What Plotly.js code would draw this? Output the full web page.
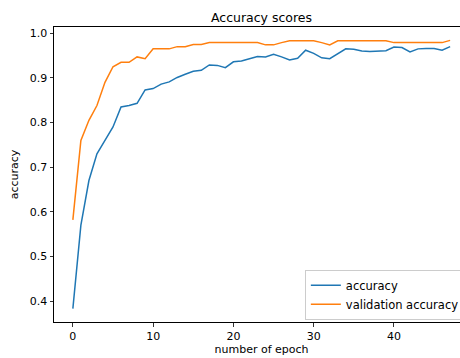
<!DOCTYPE html>
<html>
<head>
<meta charset="utf-8">
<script src="https://cdn.plot.ly/plotly-3.0.1.min.js"></script>
<style>
html, body { margin: 0; padding: 0; overflow: hidden; background: #fff; }
#chart { width: 470px; height: 358px; }
</style>
</head>
<body>
<div id="chart"></div>
<script>
const epochs = Array.from({length: 48}, (_, i) => i);
const accuracy = [
  0.383, 0.570, 0.670, 0.730, 0.760, 0.790, 0.835, 0.838, 0.843, 0.873,
  0.876, 0.886, 0.891, 0.901, 0.908, 0.915, 0.917, 0.929, 0.928, 0.923,
  0.936, 0.938, 0.943, 0.948, 0.947, 0.953, 0.947, 0.940, 0.944, 0.962,
  0.955, 0.945, 0.943, 0.955, 0.965, 0.964, 0.960, 0.959, 0.960, 0.961,
  0.969, 0.968, 0.958, 0.965, 0.966, 0.966, 0.962, 0.970
];
const valAccuracy = [
  0.582, 0.760, 0.805, 0.838, 0.890, 0.925, 0.935, 0.935, 0.947, 0.943,
  0.965, 0.965, 0.965, 0.970, 0.970, 0.975, 0.975, 0.979, 0.979, 0.979,
  0.979, 0.979, 0.979, 0.979, 0.974, 0.974, 0.979, 0.983, 0.983, 0.983,
  0.983, 0.979, 0.974, 0.983, 0.983, 0.983, 0.983, 0.983, 0.983, 0.983,
  0.979, 0.979, 0.979, 0.979, 0.979, 0.979, 0.979, 0.984
];
const xTicks = [0, 10, 20, 30, 40];
const yTicks = [0.4, 0.5, 0.6, 0.7, 0.8, 0.9, 1.0];
const yTickText = ['0.4', '0.5', '0.6', '0.7', '0.8', '0.9', '1.0'];

const font = {family: 'DejaVu Sans, sans-serif', size: 11, color: '#000'};

const traces = [
  {x: epochs, y: accuracy, name: 'accuracy', mode: 'lines',
   line: {color: '#1f77b4', width: 1.5}},
  {x: epochs, y: valAccuracy, name: 'validation accuracy', mode: 'lines',
   line: {color: '#ff7f0e', width: 1.5}}
];

const layout = {
  width: 470, height: 358,
  margin: {l: 54, r: 1, t: 27, b: 36, pad: 0},
  paper_bgcolor: '#fff', plot_bgcolor: '#fff',
  font: font,
  title: {text: 'Accuracy scores', font: {family: 'DejaVu Sans, sans-serif', size: 12.5, color: '#000'},
          x: 0.5, xref: 'paper', y: 1, yref: 'paper', yanchor: 'bottom', pad: {b: 5}},
  xaxis: {
    range: [-2.35, 49.35], tickvals: xTicks, ticktext: xTicks.map(String),
    showgrid: false, zeroline: false, showline: true, mirror: true,
    linecolor: '#000', linewidth: 1, ticks: 'outside', ticklen: 3.5, tickwidth: 0.8,
    tickcolor: '#000', tickfont: font,
    title: {text: 'number of epoch', font: font, standoff: 3}
  },
  yaxis: {
    range: [0.353, 1.014], tickvals: yTicks, ticktext: yTickText,
    showgrid: false, zeroline: false, showline: true, mirror: false,
    linecolor: '#000', linewidth: 1, ticks: 'outside', ticklen: 3.5, tickwidth: 0.8,
    tickcolor: '#000', tickfont: font,
    title: {text: 'accuracy', font: font, standoff: 8}
  },
  legend: {
    x: 0.99, y: 0.008, xanchor: 'right', yanchor: 'bottom',
    bgcolor: 'rgba(255,255,255,0.8)', bordercolor: '#cccccc', borderwidth: 1,
    font: {family: 'DejaVu Sans, sans-serif', size: 11.5, color: '#000'},
    tracegroupgap: 0, itemwidth: 30
  },
  showlegend: true
};

Plotly.newPlot('chart', traces, layout, {displayModeBar: false, staticPlot: true});
</script>
</body>
</html>
